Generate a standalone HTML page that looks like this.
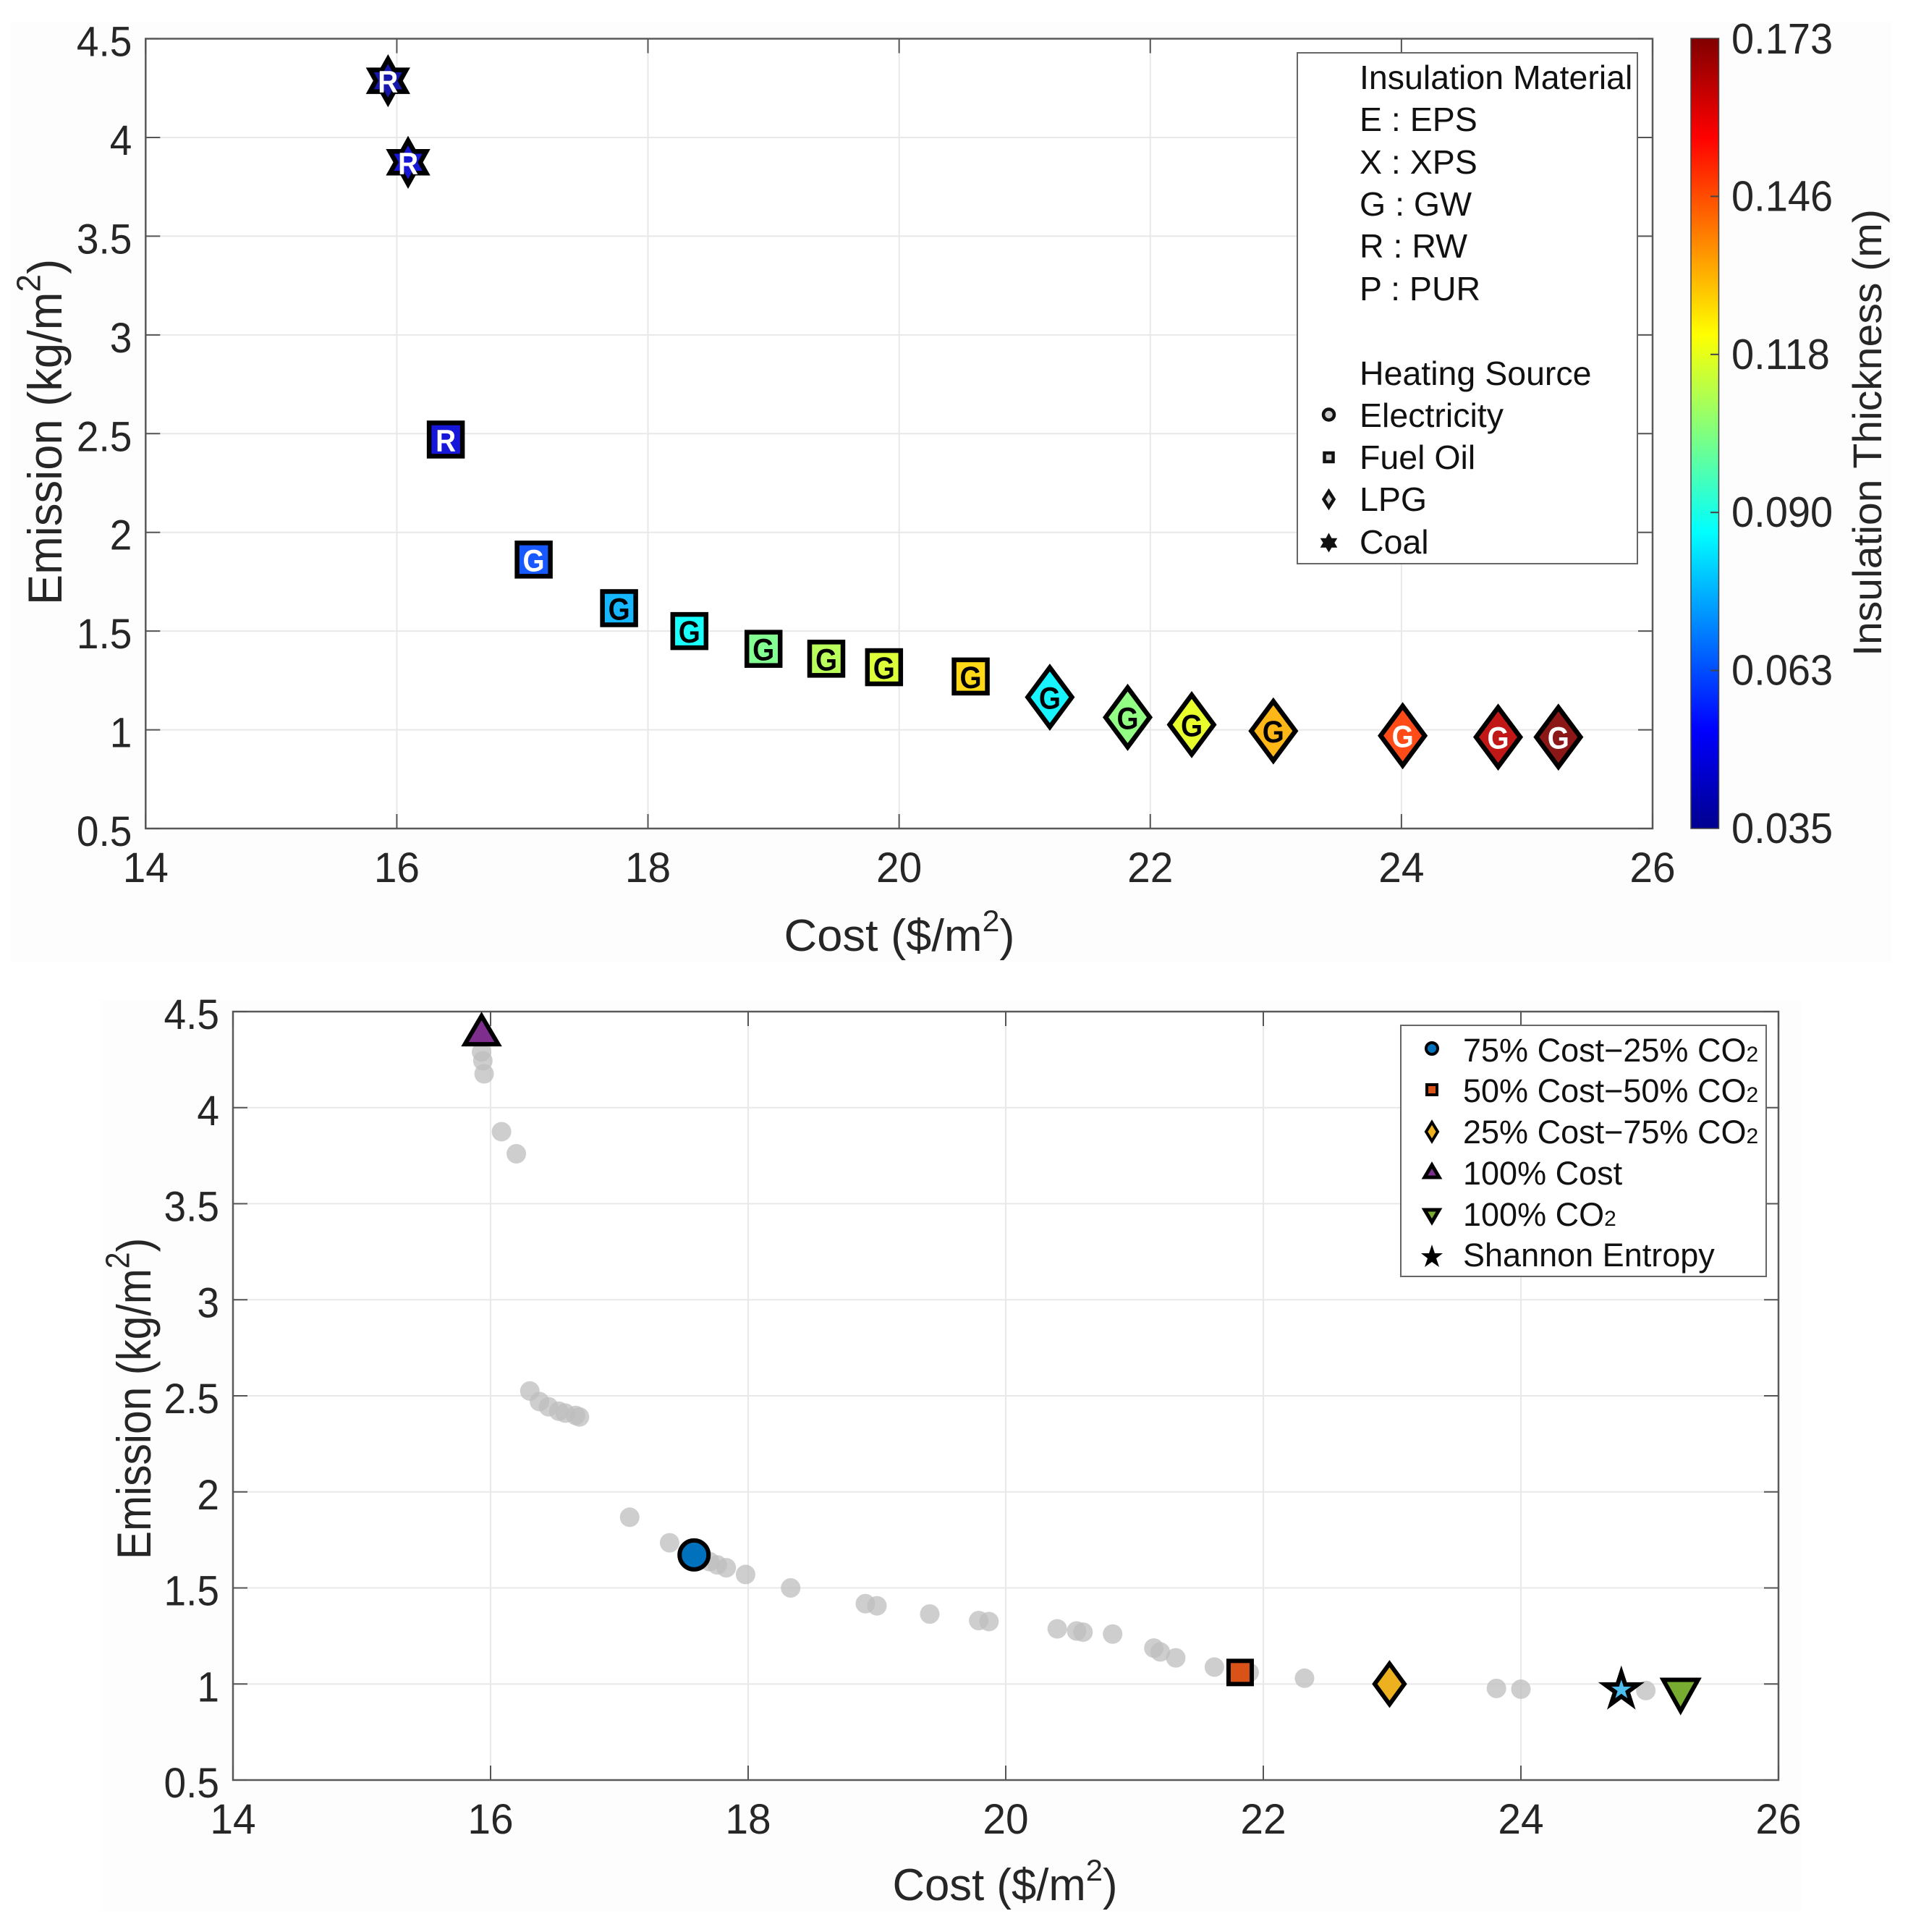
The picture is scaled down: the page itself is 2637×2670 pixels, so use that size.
<!DOCTYPE html>
<html lang="en">
<head>
<meta charset="utf-8">
<title>Cost versus emission Pareto charts</title>
<style>
html,body{margin:0;padding:0;background:#fff;}
svg{display:block;}
text{font-family:"Liberation Sans",Arial,sans-serif;fill:#262626;}
.leg{font-size:46.5px;fill:#111;}
.leg2{font-size:45px;fill:#111;}
</style>
</head>
<body>
<svg id="figure" xmlns="http://www.w3.org/2000/svg" width="2637" height="2670" viewBox="0 0 2637 2670">
<defs>
<linearGradient id="jet" x1="0" y1="1" x2="0" y2="0">
<stop offset="0" stop-color="#00008f"/><stop offset="0.125" stop-color="#0000ff"/><stop offset="0.375" stop-color="#00ffff"/><stop offset="0.625" stop-color="#ffff00"/><stop offset="0.875" stop-color="#ff0000"/><stop offset="1" stop-color="#800000"/>
</linearGradient>
</defs>
<rect x="14" y="30" width="2600" height="1300" fill="#fdfdfd"/>
<rect x="140" y="1382" width="2349" height="1260" fill="#fdfdfd"/>
<rect x="201.3" y="53.5" width="2082.7" height="1091.5" fill="#fff"/>
<rect x="322" y="1398" width="2136" height="1062" fill="#fff"/>
<g id="top-axes"></g>
<g id="top-marks"></g>
<g id="bottom-axes"></g>
<g id="bottom-gray"></g>
<g id="bottom-marks"></g>

<g>
<rect x="1793" y="73" width="470" height="706" fill="#fff" stroke="#666" stroke-width="2"/>
<text class="leg" x="1879" y="123">Insulation Material</text>
<text class="leg" x="1879" y="181">E : EPS</text>
<text class="leg" x="1879" y="240">X : XPS</text>
<text class="leg" x="1879" y="298">G : GW</text>
<text class="leg" x="1879" y="356">R : RW</text>
<text class="leg" x="1879" y="415">P : PUR</text>
<text class="leg" x="1879" y="532">Heating Source</text>
<text class="leg" x="1879" y="590">Electricity</text>
<text class="leg" x="1879" y="648">Fuel Oil</text>
<text class="leg" x="1879" y="706">LPG</text>
<text class="leg" x="1879" y="765">Coal</text>
<circle cx="1836.5" cy="573" r="7.5" fill="#ccc" stroke="#111" stroke-width="4.5"/>
<rect x="1830.5" y="626" width="12" height="12" fill="#ccc" stroke="#111" stroke-width="4.5"/>
<polygon points="1836.5,679 1843.5,690 1836.5,701 1829.5,690" fill="#ccc" stroke="#111" stroke-width="4.5"/>
<polygon points="1836.5,738 1840,744.5 1847,744.5 1843.5,750 1847,756 1840,756 1836.5,762 1833,756 1826,756 1829.5,750 1826,744.5 1833,744.5" fill="#111" stroke="#111" stroke-width="1.5"/>
</g>

<g>
<rect x="2337" y="53" width="38.5" height="1092" fill="url(#jet)" stroke="#444" stroke-width="1.5"/>
<g id="colorbar-ticks"></g>
<text transform="translate(2600,598) rotate(-90) scale(1.02,1)" text-anchor="middle" font-size="56">Insulation Thickness (m)</text>
</g>

<text transform="translate(1243,1314) scale(1.02,1)" text-anchor="middle" font-size="62">Cost ($/m<tspan font-size="42" dy="-27">2</tspan><tspan dy="27">)</tspan></text>
<text transform="translate(85,597) rotate(-90) scale(1.055,1.1)" text-anchor="middle" font-size="60">Emission (kg/m<tspan font-size="42" dy="-27">2</tspan><tspan dy="27">)</tspan></text>
<text transform="translate(1389,2626) scale(.995,1)" text-anchor="middle" font-size="62">Cost ($/m<tspan font-size="42" dy="-27">2</tspan><tspan dy="27">)</tspan></text>
<text transform="translate(208,1933) rotate(-90) scale(.98,1.1)" text-anchor="middle" font-size="60">Emission (kg/m<tspan font-size="42" dy="-27">2</tspan><tspan dy="27">)</tspan></text>

<g>
<rect x="1936" y="1417" width="505" height="347" fill="#fff" stroke="#666" stroke-width="2"/>
<text class="leg2" x="2022" y="1467">75% Cost−25% CO<tspan font-size="30">2</tspan></text>
<text class="leg2" x="2022" y="1523">50% Cost−50% CO<tspan font-size="30">2</tspan></text>
<text class="leg2" x="2022" y="1580">25% Cost−75% CO<tspan font-size="30">2</tspan></text>
<text class="leg2" x="2022" y="1637">100% Cost</text>
<text class="leg2" x="2022" y="1694">100% CO<tspan font-size="30">2</tspan></text>
<text class="leg2" x="2022" y="1750">Shannon Entropy</text>
<circle cx="1979" cy="1449" r="8" fill="#0072bd" stroke="#000" stroke-width="4"/>
<rect x="1972" y="1499" width="14" height="14" fill="#d95319" stroke="#000" stroke-width="4"/>
<polygon points="1979,1551 1987,1564 1979,1577 1971,1564" fill="#edb120" stroke="#000" stroke-width="4"/>
<polygon points="1979,1610 1989,1627 1969,1627" fill="#7e2f8e" stroke="#000" stroke-width="5"/>
<polygon points="1969,1672 1989,1672 1979,1689" fill="#77ac30" stroke="#000" stroke-width="5"/>
<polygon points="1979,1720 1983,1732 1994,1732 1985,1739 1989,1751 1979,1744 1969,1751 1973,1739 1964,1732 1975,1732" fill="#000"/>
</g>
</svg>

<script>
// Top chart data
const topCost = [15.93,16.09,16.39,17.09,17.77,18.33,18.92,19.42,19.88,20.57,21.2,21.82,22.33,22.98,24.01,24.77,25.25];
const topEmission = [4.287,3.874,2.47,1.862,1.616,1.5,1.41,1.36,1.317,1.27,1.165,1.063,1.026,0.994,0.97,0.963,0.963];
const topThickness = [0.038,0.045,0.046,0.062,0.076,0.087,0.103,0.111,0.116,0.127,0.085,0.105,0.118,0.132,0.148,0.165,0.173];
const topMaterial = ["R","R","R","G","G","G","G","G","G","G","G","G","G","G","G","G","G"];
const topSource = ["coal","coal","oil","oil","oil","oil","oil","oil","oil","oil","lpg","lpg","lpg","lpg","lpg","lpg","lpg"];
// Bottom chart data
const grayCost = [15.93,15.94,15.95,16.085,16.2,16.305,16.38,16.45,16.53,16.58,16.66,16.69,17.08,17.39,17.70,17.76,17.83,17.98,18.33,18.91,19.0,19.41,19.79,19.87,20.40,20.55,20.6,20.83,21.15,21.2,21.32,21.62,21.89,22.32,22.96,23.81,24.0,24.97];
const grayEmission = [4.29,4.244,4.176,3.875,3.76,2.525,2.47,2.443,2.42,2.41,2.398,2.39,1.868,1.735,1.637,1.62,1.605,1.57,1.5,1.418,1.407,1.364,1.33,1.325,1.287,1.276,1.27,1.26,1.187,1.167,1.136,1.088,1.06,1.03,1.0,0.977,0.973,0.966];
const highlightNames = ["cost-75","cost-50","cost-25","cost-100","co2-100","shannon-entropy"];
const highlightCost = [17.58,21.82,22.98,15.93,25.24,24.78];
const highlightEmission = [1.672,1.06,1.0,4.398,0.95,0.977];
const highlightFill = ["#0072bd","#d95319","#edb120","#7e2f8e","#77ac30","#4dbeee"];
// Axis tick labels
const xTickValues = [14,16,18,20,22,24,26];
const yTickValues = [0.5,1,1.5,2,2.5,3,3.5,4,4.5];
const yTickLabels = ["0.5","1","1.5","2","2.5","3","3.5","4","4.5"];
const colorbarLabels = ["0.035","0.063","0.090","0.118","0.146","0.173"];

const NS = "http://www.w3.org/2000/svg";
const topFrame = {l:201.3,r:2284,t:53.5,b:1145};
const botFrame = {l:322,r:2458,t:1398,b:2460};
const xScale = (f,v) => f.l + (v-14)/12*(f.r-f.l);
const yScale = (f,v) => f.b - (v-0.5)/4*(f.b-f.t);

function jet(t){
  const stops=[[0,0,0,143],[0.125,0,0,255],[0.375,0,255,255],[0.625,255,255,0],[0.875,255,0,0],[1,128,0,0]];
  for(let i=1;i<stops.length;i++){
    if(t<=stops[i][0]){
      const a=stops[i-1],b=stops[i],k=(t-a[0])/(b[0]-a[0]);
      return "rgb("+[1,2,3].map(j=>Math.round(a[j]+(b[j]-a[j])*k)).join(",")+")";
    }
  }
  return "rgb(128,0,0)";
}
function mk(tag,parent,attrs){
  const e=document.createElementNS(NS,tag);
  for(const k in attrs) e.setAttribute(k,attrs[k]);
  parent.appendChild(e);
  return e;
}
function drawAxes(g,f){
  for(const v of xTickValues){
    const x=xScale(f,v);
    if(v>14&&v<26){
      const gl=mk("line",g,{x1:x,x2:x,y1:f.t,y2:f.b,stroke:"#e8e8e8","stroke-width":2});
      
      
    }
  }
  for(const v of yTickValues){
    const y=yScale(f,v);
    if(v>0.5&&v<4.5){
      const gl=mk("line",g,{x1:f.l,x2:f.r,y1:y,y2:y,stroke:"#e8e8e8","stroke-width":2});
      
      
    }
  }
  const frame=mk("rect",g,{x:f.l,y:f.t,width:f.r-f.l,height:f.b-f.t,fill:"none",stroke:"#5a5a5a","stroke-width":2.5});
  
  
  for(const v of xTickValues){
    const x=xScale(f,v);
    const p=mk("path",g,{d:"M"+x+" "+f.t+"v20M"+x+" "+f.b+"v-20",stroke:"#555","stroke-width":2,fill:"none"});
    
    
    const tx=mk("text",g,{transform:"translate("+x+","+(f.b+74)+") scale(.98,1)","text-anchor":"middle","font-size":58});
    
    
    tx.textContent=String(v);
  }
  yTickValues.forEach((v,i)=>{
    const y=yScale(f,v);
    const p=mk("path",g,{d:"M"+f.l+" "+y+"h20M"+f.r+" "+y+"h-20",stroke:"#555","stroke-width":2,fill:"none"});
    
    
    const tx=mk("text",g,{transform:"translate("+(f.l-19)+","+(y+24)+") scale(1,1.06)","text-anchor":"end","font-size":55});
    
    
    tx.textContent=yTickLabels[i];
  });
}
function hexagram(cx,cy,rx,ry){
  const pts=[];
  for(let i=0;i<12;i++){
    const a=-Math.PI/2+i*Math.PI/6, o=i%2===0?1:0.577;
    pts.push((cx+rx*o*Math.cos(a)).toFixed(1)+","+(cy+ry*o*Math.sin(a)).toFixed(1));
  }
  return pts.join(" ");
}
function star5(cx,cy,r){
  const pts=[];
  for(let i=0;i<10;i++){
    const a=-Math.PI/2+i*Math.PI/5, o=i%2===0?r:r*0.382;
    pts.push((cx+o*Math.cos(a)).toFixed(1)+","+(cy+o*Math.sin(a)).toFixed(1));
  }
  return pts.join(" ");
}

// Top chart
drawAxes(document.getElementById("top-axes"),topFrame);
const topG=document.getElementById("top-marks");
topCost.forEach((c,i)=>{
  const x=xScale(topFrame,c), y=yScale(topFrame,topEmission[i]);
  const th=topThickness[i];
  const fill=jet((th-0.035)/(0.173-0.035));
  const st={fill:fill,"fill-opacity":0.91,stroke:"#000","stroke-width":6.5,"stroke-linejoin":"miter","stroke-miterlimit":10};
  let s;
  if(topSource[i]==="oil"){
    s=mk("rect",topG,Object.assign({x:x-23,y:y-23,width:46,height:46},st));
  }else if(topSource[i]==="lpg"){
    s=mk("polygon",topG,Object.assign({points:(x)+","+(y-41)+" "+(x+30.5)+","+y+" "+x+","+(y+41)+" "+(x-30.5)+","+y},st));
  }else{
    s=mk("polygon",topG,Object.assign({points:hexagram(x,y,29,30)},st));
  }
  
  
  const t=mk("text",topG,{transform:"translate("+x+","+(y+16)+") scale(.9,1)","text-anchor":"middle","font-size":43,"font-weight":"bold"});
  t.style.fill=(th<0.07||th>0.14)?"#fff":"#000";
  
  
  t.textContent=topMaterial[i];
});

// Colorbar ticks
const cbT=document.getElementById("colorbar-ticks");
colorbarLabels.forEach((lab,i)=>{
  const y=1145-i/(colorbarLabels.length-1)*1092;
  if(i>0&&i<colorbarLabels.length-1){
    const p=mk("line",cbT,{x1:2364,x2:2375.5,y1:y,y2:y,stroke:"#444","stroke-width":2});
    
    
  }
  const t=mk("text",cbT,{transform:"translate(2393,"+(y+19+(i===0?1:i===5?2:1))+") scale(1,1.06)","font-size":56});
  
  
  t.textContent=lab;
});

// Bottom chart
drawAxes(document.getElementById("bottom-axes"),botFrame);
const grayG=document.getElementById("bottom-gray");
grayCost.forEach((c,i)=>{
  const d=mk("circle",grayG,{cx:xScale(botFrame,c),cy:yScale(botFrame,grayEmission[i]),r:13.5,fill:"#bdbdbd","fill-opacity":0.75});
  
  
});
const hiG=document.getElementById("bottom-marks");
highlightCost.forEach((c,i)=>{
  const x=xScale(botFrame,c), y=yScale(botFrame,highlightEmission[i]);
  const st={fill:highlightFill[i],stroke:"#000","stroke-width":6,"stroke-miterlimit":10};
  let s;
  const kind=highlightNames[i];
  if(kind==="cost-75") s=mk("circle",hiG,Object.assign({cx:x,cy:y,r:20},st));
  else if(kind==="cost-50") s=mk("rect",hiG,Object.assign({x:x-16,y:y-16,width:32,height:32},st));
  else if(kind==="cost-25") s=mk("polygon",hiG,Object.assign({points:x+","+(y-28)+" "+(x+20.5)+","+y+" "+x+","+(y+28)+" "+(x-20.5)+","+y},st));
  else if(kind==="cost-100") s=mk("polygon",hiG,Object.assign({points:x+","+(y-21)+" "+(x+23)+","+(y+18)+" "+(x-23)+","+(y+18)},st));
  else if(kind==="co2-100") s=mk("polygon",hiG,Object.assign({points:(x-24)+","+(y-19)+" "+(x+24)+","+(y-19)+" "+x+","+(y+24)},st));
  else s=mk("polygon",hiG,Object.assign({points:star5(x,y+2,24)},st));
  
  
});
</script>
</body>
</html>
